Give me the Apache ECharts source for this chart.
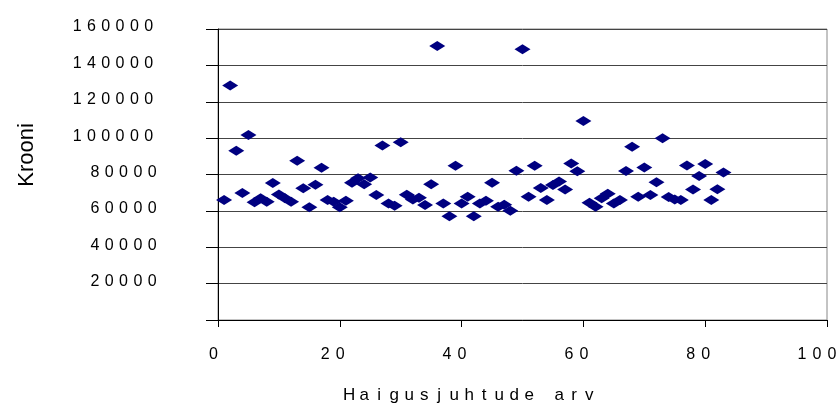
<!DOCTYPE html>
<html>
<head>
<meta charset="utf-8">
<script src="https://cdn.jsdelivr.net/npm/echarts@6/dist/echarts.min.js"></script>
<style>
html,body{margin:0;padding:0;background:#fff;}
#chart{width:837px;height:412px;}
</style>
</head>
<body>
<div id="chart"></div>
<script>
// Data
var caseCounts = [1,2,3,4,5,6,7,8,9,10,11,12,13,14,15,16,17,18,19,20,21,22,23,24,25,26,27,28,29,30,31,32,33,34,35,36,37,38,39,40,41,42,43,44,45,46,47,48,49,50,51,52,53,54,55,56,57,58,59,60,61,62,63,64,65,66,67,68,69,70,71,72,73,74,75,76,77,78,79,80,81,82,83];
var costs = [66000,129000,93000,69800,101700,64800,67000,65000,75300,69000,67000,65000,87500,72400,62000,74400,83700,66000,65000,62000,65500,75500,77900,74600,78400,68700,96000,64100,62800,97700,68900,66200,67200,63200,74600,150600,64100,57000,84800,64100,67800,57000,64100,65500,75500,62300,63400,60100,82000,148800,67800,84800,72600,66000,74200,76200,71700,86100,81800,109400,64500,62300,66900,69400,64100,66000,81900,95300,67800,83800,68700,75700,99900,67600,66300,66000,85000,71700,79200,85800,66000,71900,81100];
var xTicks = [0,20,40,60,80,100];
var yTicks = [0,20000,40000,60000,80000,100000,120000,140000,160000];
var xTitle = 'Haigusjuhtude arv';
var yTitle = 'Krooni';

function spaced(s, tag){
  return String(s).split('').map(function(c){ return '{' + tag + '|' + c + '}'; }).join('');
}

var points = caseCounts.map(function(x, i){ return [x, costs[i]]; });

var chart = echarts.init(document.getElementById('chart'), null, {renderer:'canvas'});
var FONT = 'Liberation Sans, Arial, sans-serif';
var digitX = {width: 15, align: 'left', fontSize: 16, color: '#000', fontFamily: FONT};
var digitY = {width: 14.3, align: 'left', fontSize: 16, color: '#000', fontFamily: FONT};
chart.setOption({
  animation: false,
  backgroundColor: '#ffffff',
  grid: {left: 218, right: 10, top: 29, bottom: 92, outerBoundsMode: 'none', containLabel: false,
         show: true, borderColor: '#888888', borderWidth: 1, backgroundColor: 'transparent'},
  graphic: [
    {type: 'text', left: 343, top: 387, silent: true,
     style: {text: spaced(xTitle, 't'), fill: '#000',
             rich: {t: {width: 15, align: 'center', fontSize: 17, fill: '#000', fontFamily: FONT}}}},
    {type: 'text', x: 27, y: 155, rotation: Math.PI / 2, silent: true,
     style: {text: yTitle, fontSize: 22, fontFamily: FONT, fill: '#000', align: 'center', verticalAlign: 'middle'}}
  ],
  xAxis: {
    type: 'value',
    min: xTicks[0], max: xTicks[xTicks.length-1], interval: 20,
    axisLine: {show: true, onZero: false, lineStyle: {color: '#000', width: 1}},
    axisTick: {show: true, inside: false, length: 7, lineStyle: {color: '#000'}},
    splitLine: {show: false},
    axisLabel: {
      margin: 27,
      formatter: function(v){ var s = String(v); return spaced(s, 'd') + '{p' + s.length + '| }'; },
      rich: {d: digitX,
             p1: {width: 3, fontSize: 16, fontFamily: FONT},
             p2: {width: 8, fontSize: 16, fontFamily: FONT},
             p3: {width: 14, fontSize: 16, fontFamily: FONT}}
    }
  },
  yAxis: {
    type: 'value',
    min: yTicks[0], max: yTicks[yTicks.length-1], interval: 20000,
    axisLine: {show: true, onZero: false, lineStyle: {color: '#000', width: 1}},
    axisTick: {show: true, inside: false, length: 12, lineStyle: {color: '#000'}},
    splitLine: {show: true, lineStyle: {color: '#444444', width: 1}},
    axisLabel: {
      margin: 56,
      padding: [0, 0, 4, 0],
      formatter: function(v){
        if (v === 0) return '';
        var s = String(v);
        return spaced(s, 'd') + (s.length > 5 ? '{q| }' : '');
      },
      rich: {d: digitY, q: {width: 3.5, fontSize: 16, fontFamily: FONT}}
    }
  },
  series: [{
    type: 'scatter',
    data: points,
    symbol: 'diamond',
    symbolSize: [16, 10],
    itemStyle: {color: '#000080', opacity: 1},
    emphasis: {disabled: true}
  }]
});
</script>
</body>
</html>
